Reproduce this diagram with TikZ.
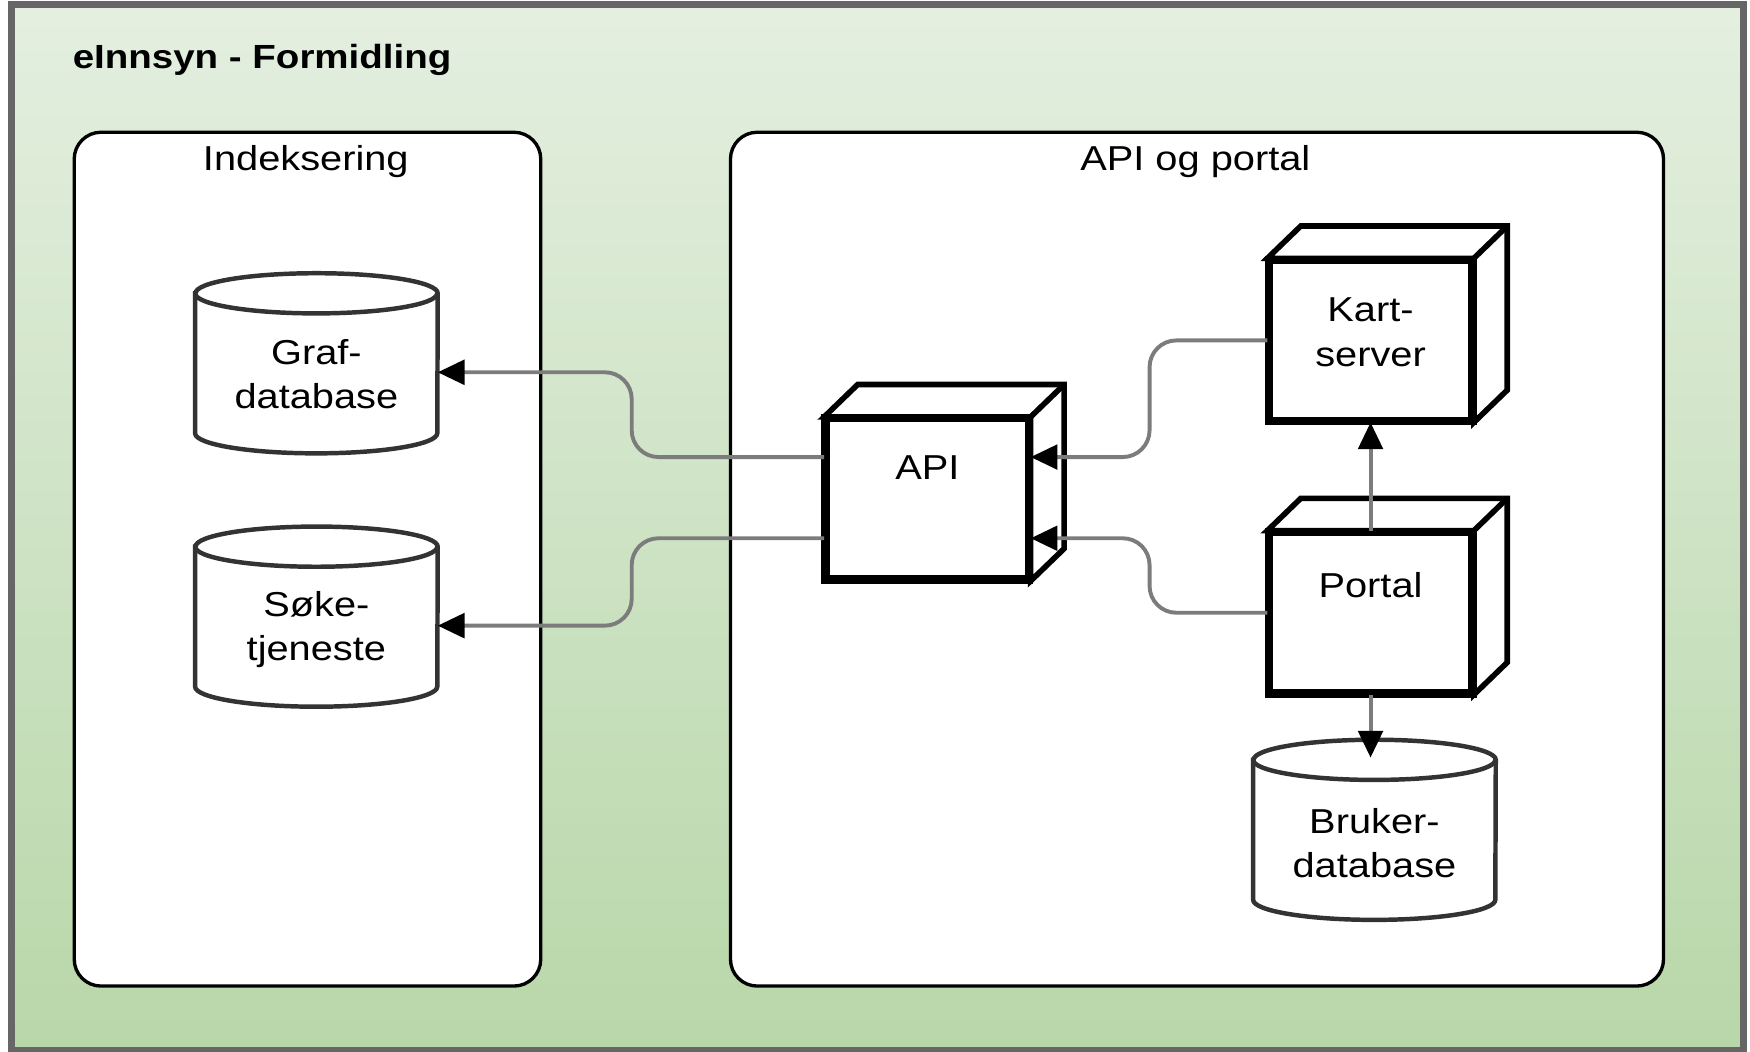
\documentclass[tikz,border=0pt]{standalone}
\usepackage{fontspec}
\setmainfont{Liberation Sans}[FakeStretch=1.15]
\usetikzlibrary{calc,arrows.meta}
\definecolor{topgreen}{HTML}{E4EFE0}
\definecolor{botgreen}{HTML}{B8D7A9}
\definecolor{framegray}{HTML}{666666}
\definecolor{conngray}{HTML}{7C7C7C}
\definecolor{cylgray}{HTML}{333333}
\tikzset{
  titletext/.style={font=\fontsize{30}{38}\selectfont\bfseries, inner sep=0pt},
  lbl/.style={font=\fontsize{31}{39.5}\selectfont, inner sep=0pt, align=center},
  container/.style={draw=black, line width=3pt, fill=white, rounded corners=24pt, inner sep=0pt},
  cubefront/.style={draw=black, line width=5pt, fill=white, minimum width=180pt, minimum height=142pt, inner sep=0pt},
  cubeline/.style={draw=black, line width=5pt, line join=miter},
  cylbox/.style={draw=none, minimum width=217pt, minimum height=161pt, inner sep=0pt},
  cylline/.style={draw=cylgray, line width=4pt},
  conn/.style={draw=conngray, line width=3.5pt, rounded corners=24pt, -{Triangle[length=24pt,width=22pt,color=black]}},
}
\newcommand\mkcube[1]{%
  \filldraw[cubeline, fill=white] (#1.north west) -- ++(30,29) -- ($(#1.north east)+(30,29)$) -- ($(#1.south east)+(30,29)$) -- (#1.south east) -- (#1.north east) -- cycle;
  \draw[cubeline] (#1.north east) -- ++(30,29);
  \draw[cubeline] (#1.north west) rectangle (#1.south east);
}
\newcommand\mkcyl[1]{%
  \filldraw[cylline, fill=white] ($(#1.north west)+(0,-18)$) -- ($(#1.south west)+(0,18)$)
    arc[start angle=180, end angle=360, x radius=108.5pt, y radius=18pt]
    -- ($(#1.north east)+(0,-18)$)
    arc[start angle=0, end angle=180, x radius=108.5pt, y radius=18pt] -- cycle;
  \draw[cylline] ($(#1.north west)+(0,-18)$) arc[start angle=180, end angle=360, x radius=108.5pt, y radius=18pt];
}
\begin{document}
\begin{tikzpicture}[x=1pt,y=1pt]
\useasboundingbox (0,0) rectangle (1568,-942);
\fill[white] (0,0) rectangle (1568,-942);
% outer frame
\shade[top color=topgreen, bottom color=botgreen] (10,-4) rectangle (1562,-941);
\draw[framegray, line width=6pt] (10,-4) rectangle (1562,-941);
\node[titletext, anchor=base west] (title) at (65,-61) {eInnsyn - Formidling};
% containers
\node[container, minimum width=418pt, minimum height=765pt, anchor=north west] (idx) at (65,-117) {};
\node[lbl, anchor=base] (idxlbl) at (274,-153) {Indeksering};
\node[container, minimum width=836pt, minimum height=765pt, anchor=north west] (portalbox) at (653,-117) {};
\node[lbl, anchor=base] (portallbl) at (1071,-153) {API og portal};
% cylinders
\node[cylbox] (graf) at (283.5,-325.5) {};
\mkcyl{graf}
\node[lbl, anchor=base] (graft) at (283.5,-366) {Graf-\\database};
\node[cylbox] (soke) at (283.5,-552.5) {};
\mkcyl{soke}
\node[lbl, anchor=base] (soket) at (283.5,-592) {Søke-\\tjeneste};
\node[cylbox] (bruker) at (1231.5,-743.5) {};
\mkcyl{bruker}
\node[lbl, anchor=base] (brukert) at (1231.5,-786) {Bruker-\\database};
% cubes
\node[cubefront] (api) at (831,-447) {};
\mkcube{api}
\node[lbl, anchor=base] (apit) at (831,-430) {API};
\node[cubefront] (kart) at (1228,-305) {};
\mkcube{kart}
\node[lbl, anchor=base] (kartt) at (1228,-328) {Kart-\\server};
\node[cubefront] (portal) at (1228,-549) {};
\mkcube{portal}
\node[lbl, anchor=base] (portalt) at (1228,-535) {Portal};
% helper coordinates
\coordinate (midL) at (566,0);
\coordinate (midR) at (1030,0);
\coordinate (apiL1) at ($(api.north west)!0.245!(api.south west)$);
\coordinate (apiL2) at ($(api.north west)!0.74!(api.south west)$);
\coordinate (apiR1) at ($(api.north east)!0.245!(api.south east)$);
\coordinate (apiR2) at ($(api.north east)!0.74!(api.south east)$);
\coordinate (grafin) at ($(graf.north east)!0.55!(graf.south east)$);
\coordinate (sokein) at ($(soke.north east)!0.55!(soke.south east)$);
\coordinate (brukin) at ($(bruker.north)+(0,-16)$);
% connectors
\draw[conn] (apiL1) -- (apiL1 -| midL) -- (grafin -| midL) -- (grafin);
\draw[conn] (apiL2) -- (apiL2 -| midL) -- (sokein -| midL) -- (sokein);
\draw[conn] (kart.west) -- (kart.west -| midR) -- (apiR1 -| midR) -- (apiR1);
\draw[conn] (portal.west) -- (portal.west -| midR) -- (apiR2 -| midR) -- (apiR2);
\draw[conn] (portal.north) -- (kart.south);
\draw[conn] (portal.south) -- (portal.south |- brukin);
\end{tikzpicture}
\end{document}
